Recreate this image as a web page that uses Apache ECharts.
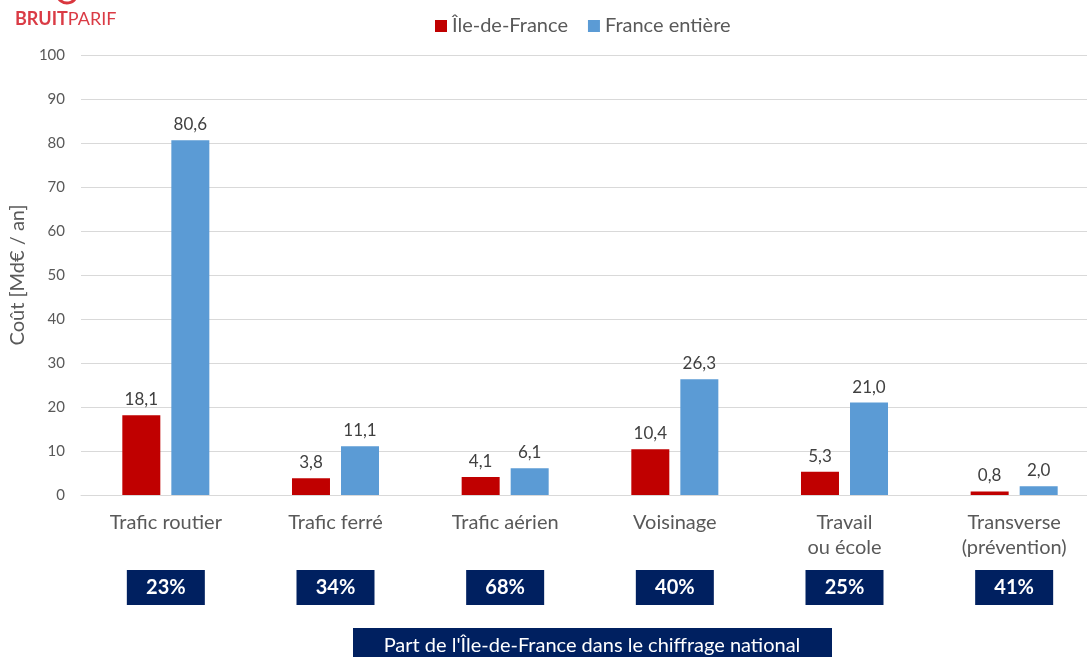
<!DOCTYPE html>
<html>
<head>
<meta charset="utf-8">
<script src="https://cdn.jsdelivr.net/npm/echarts@6/dist/echarts.min.js"></script>
<style>
  html, body { margin: 0; padding: 0; background: #fff; overflow: hidden; }
  #chart { width: 1099px; height: 657px; }
</style>
</head>
<body>
<div id="chart"></div>
<script>
var categories = ["Trafic routier", "Trafic ferré", "Trafic aérien", "Voisinage", "Travail\nou école", "Transverse\n(prévention)"];
var idf = [18.1, 3.8, 4.1, 10.4, 5.3, 0.8];
var france = [80.6, 11.1, 6.1, 26.3, 21.0, 2.0];
var shares = ["23%", "34%", "68%", "40%", "25%", "41%"];

var chartDom = document.getElementById("chart");
var myChart = echarts.init(chartDom);
var font = "Lato, 'Open Sans', sans-serif";

function fmt(p) {
  return p.value.toFixed(1).replace(".", ",");
}

var option = {
  animation: false,
  textStyle: { fontFamily: font },
  color: ["#C00000", "#5B9BD5"],
  legend: {
    left: 430,
    top: 11,
    icon: "rect",
    itemWidth: 12,
    itemHeight: 12,
    itemGap: 20,
    textStyle: { fontSize: 20, color: "#595959", fontFamily: font },
    data: ["Île-de-France", "France entière"]
  },
  grid: {
    left: 78,
    right: 0,
    top: 55,
    bottom: 162
  },
  xAxis: [
    {
      type: "category",
      data: categories,
      axisLine: { lineStyle: { color: "#d9d9d9" } },
      axisTick: { show: false },
      axisLabel: {
        interval: 0,
        fontSize: 20,
        lineHeight: 25,
        color: "#595959",
        margin: 15,
        fontFamily: font
      }
    },
    {
      type: "category",
      data: categories,
      position: "bottom",
      axisLine: { show: false },
      axisTick: { show: false },
      axisLabel: {
        interval: 0,
        margin: 75,
        formatter: function (v, i) {
          return "{box|" + shares[i] + "}";
        },
        rich: {
          box: {
            backgroundColor: "#002060",
            color: "#ffffff",
            fontWeight: "bold",
            fontSize: 20,
            width: 78,
            height: 35,
            lineHeight: 35,
            align: "center",
            fontFamily: font
          }
        }
      }
    }
  ],
  yAxis: {
    type: "value",
    min: 0,
    max: 100,
    interval: 10,
    name: "Coût [Md€ / an]",
    nameLocation: "middle",
    nameGap: 46,
    nameTextStyle: { fontSize: 20, color: "#595959", fontFamily: font },
    axisLine: { show: false },
    axisTick: { show: false },
    axisLabel: { fontSize: 15, color: "#595959", margin: 16, fontFamily: font },
    splitLine: { lineStyle: { color: "#d9d9d9" } }
  },
  series: [
    {
      name: "Île-de-France",
      type: "bar",
      data: idf,
      barWidth: 38,
      barGap: "29%",
      itemStyle: { color: "#C00000" },
      label: {
        show: true,
        position: "top",
        distance: 7,
        fontSize: 17,
        color: "#404040",
        formatter: fmt,
        fontFamily: font
      }
    },
    {
      name: "France entière",
      type: "bar",
      data: france,
      barWidth: 38,
      itemStyle: { color: "#5B9BD5" },
      label: {
        show: true,
        position: "top",
        distance: 7,
        fontSize: 17,
        color: "#404040",
        formatter: fmt,
        fontFamily: font
      }
    }
  ],
  graphic: [
    {
      type: "arc",
      shape: { cx: 67, cy: -7, r: 10, startAngle: Math.PI * 0.2, endAngle: Math.PI * 0.9 },
      style: { stroke: "#D9363E", lineWidth: 3, fill: null }
    },
    {
      type: "text",
      left: 15,
      top: 10,
      style: {
        text: "{b|BRUIT}{r|PARIF}",
        rich: {
          b: { fontSize: 18, fontWeight: "bold", fill: "#DA3B45", fontFamily: font },
          r: { fontSize: 18, fill: "#DA3B45", fontFamily: font }
        }
      }
    },
    {
      type: "rect",
      left: 353,
      top: 628,
      shape: { width: 479, height: 40 },
      style: { fill: "#002060" }
    },
    {
      type: "text",
      x: 592,
      y: 646,
      style: {
        text: "Part de l'Île-de-France dans le chiffrage national",
        align: "center",
        verticalAlign: "middle",
        fontSize: 20,
        fill: "#ffffff",
        fontFamily: font
      },
      z: 10
    }
  ]
};

myChart.setOption(option);
window.addEventListener("resize", myChart.resize);
</script>
</body>
</html>
